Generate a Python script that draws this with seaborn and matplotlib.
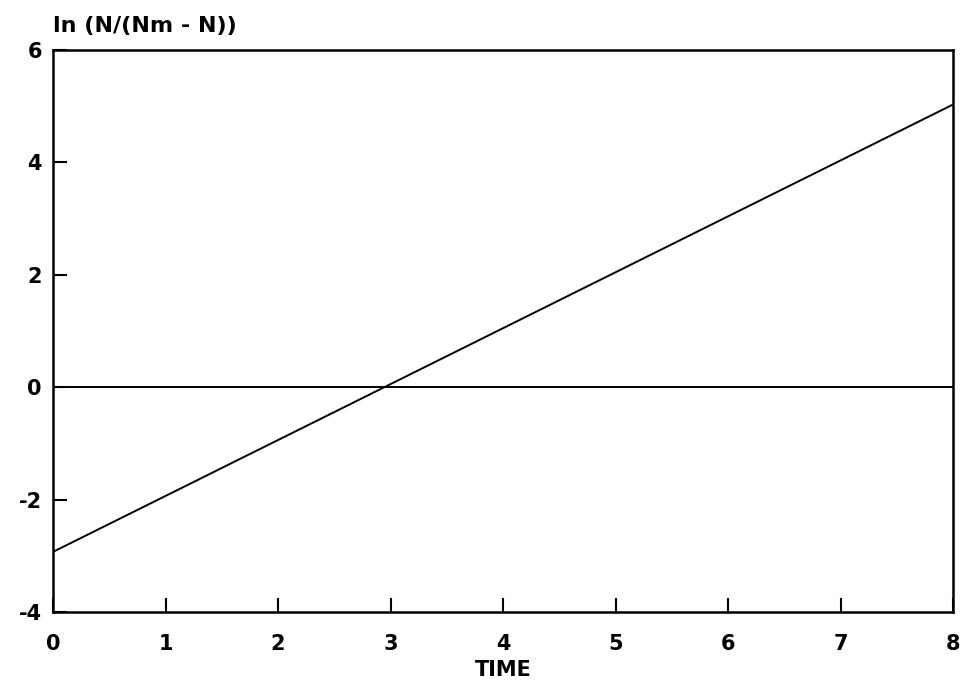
import matplotlib
matplotlib.use("Agg")
import matplotlib.pyplot as plt
import seaborn as sns
import pandas as pd

# Datos (recta ajustada y línea de referencia en cero)
tiempo = [0, 8]
ln_ratio = [-2.93, 5.03]
cero = [0, 0]

x_ticks = [0, 1, 2, 3, 4, 5, 6, 7, 8]
y_ticks = [-4, -2, 0, 2, 4, 6]

sns.set_style("white")
plt.rcParams["font.family"] = ["DejaVu Sans"]
plt.rcParams["font.weight"] = "bold"
plt.rcParams["axes.unicode_minus"] = False
plt.rcParams["text.color"] = "black"
plt.rcParams["axes.labelcolor"] = "black"
plt.rcParams["xtick.color"] = "black"
plt.rcParams["ytick.color"] = "black"

df = pd.DataFrame({"TIME": tiempo, "ln": ln_ratio, "cero": cero})

fig = plt.figure(figsize=(9.65, 6.85), dpi=100)
ax = fig.add_axes([0.055, 0.1066, 0.9326, 0.8204])

sns.lineplot(data=df, x="TIME", y="ln", color="black", linewidth=1.4, ax=ax)
sns.lineplot(data=df, x="TIME", y="cero", color="black", linewidth=1.4, ax=ax)

ax.set_xlim(0, 8)
ax.set_ylim(-4, 6)
ax.set_xticks(x_ticks)
ax.set_yticks(y_ticks)
ax.tick_params(direction="in", length=10, width=1.5, labelsize=15,
               top=False, right=False, left=True, bottom=True)
ax.tick_params(axis="x", pad=16)
ax.tick_params(axis="y", pad=8)
for lab in ax.get_xticklabels() + ax.get_yticklabels():
    lab.set_fontweight("bold")
for s in ax.spines.values():
    s.set_linewidth(1.8)
    s.set_color("black")

ax.set_xlabel("TIME", fontsize=15, fontweight="bold", labelpad=4)
ax.set_ylabel("")
ax.text(0.0, 1.025, "ln (N/(Nm - N))", transform=ax.transAxes, fontsize=16,
        fontweight="bold", ha="left", va="bottom")

plt.savefig("out.png", dpi=100)
